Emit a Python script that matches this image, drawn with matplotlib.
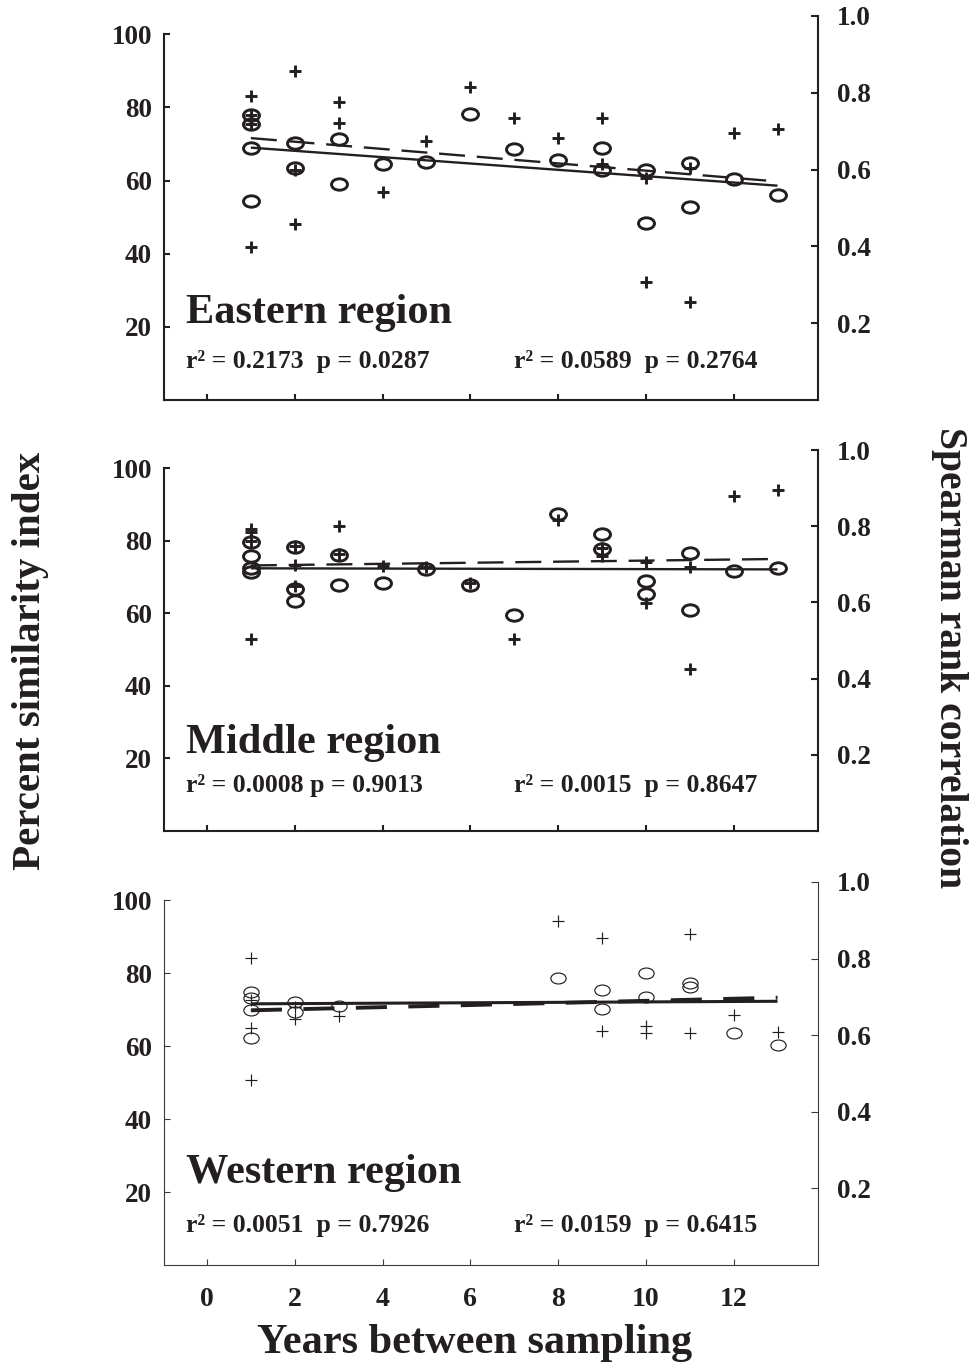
import numpy as np
import matplotlib
matplotlib.use("Agg")
import matplotlib.pyplot as plt
from matplotlib.path import Path
from matplotlib.markers import MarkerStyle
from matplotlib.transforms import Affine2D

plt.rcParams['font.family'] = ['Liberation Serif', 'DejaVu Serif']
plt.rcParams['font.weight'] = 'bold'

INK = '#231f20'

regions = ['Eastern region', 'Middle region', 'Western region']
years = [0, 2, 4, 6, 8, 10, 12]
fit_x = [1, 13]

# percent similarity index (circles, left axis)
east_psi_x = [1, 1, 1, 1, 2, 2, 3, 3, 4, 5, 6, 7, 8, 9, 9, 10, 10, 11, 11, 12, 13]
east_psi = [78.0, 75.5, 69.0, 54.5, 70.4, 63.4, 71.4, 59.1, 64.6, 65.2, 78.3,
            68.7, 65.7, 69.0, 62.9, 62.9, 48.5, 64.8, 52.8, 60.4, 56.0]
middle_psi_x = [1, 1, 1, 1, 2, 2, 2, 3, 3, 4, 5, 6, 7, 8, 9, 9, 10, 10, 11, 11, 12, 13]
middle_psi = [79.6, 75.9, 72.5, 71.3, 78.2, 66.8, 63.3, 76.0, 67.9, 68.4, 72.1,
              67.9, 59.6, 87.3, 81.8, 77.6, 68.8, 65.4, 76.7, 60.8, 71.6, 72.5]
west_psi_x = [1, 1, 1, 1, 2, 2, 3, 8, 9, 9, 10, 10, 11, 11, 12, 13]
west_psi = [74.8, 73.1, 69.8, 62.3, 72.1, 69.3, 71.0, 78.6, 75.3, 70.3,
            80.1, 73.4, 77.3, 76.2, 63.6, 60.2]

# spearman rank correlation (crosses, right axis)
east_rho_x = [1, 1, 1, 1, 2, 2, 2, 3, 3, 4, 5, 6, 7, 8, 9, 9, 10, 10, 11, 11, 12, 13]
east_rho = [0.792, 0.742, 0.718, 0.398, 0.857, 0.599, 0.458, 0.775, 0.721, 0.541, 0.675,
            0.816, 0.734, 0.681, 0.734, 0.615, 0.577, 0.306, 0.603, 0.254, 0.696, 0.706]
middle_rho_x = [1, 1, 1, 1, 2, 2, 2, 3, 3, 4, 5, 6, 7, 8, 9, 9, 10, 10, 11, 11, 12, 13]
middle_rho = [0.792, 0.785, 0.762, 0.503, 0.747, 0.697, 0.644, 0.801, 0.728, 0.695, 0.693,
              0.651, 0.503, 0.815, 0.743, 0.721, 0.705, 0.599, 0.693, 0.426, 0.878, 0.895]
west_rho_x = [1, 1, 1, 1, 2, 2, 3, 8, 9, 9, 10, 10, 11, 11, 12, 13]
west_rho = [0.802, 0.691, 0.619, 0.484, 0.673, 0.643, 0.651, 0.898, 0.855, 0.610,
            0.625, 0.605, 0.863, 0.605, 0.654, 0.608]

# regression line ends at 1 and 13 years
east_psi_fit = [69.0, 58.6]
east_rho_fit = [0.682, 0.569]
middle_psi_fit = [72.4, 72.1]
middle_rho_fit = [0.697, 0.714]
west_psi_fit = [71.6, 72.3]
west_rho_fit = [0.665, 0.698]

psi_stats = ['r² = 0.2173  p = 0.0287', 'r² = 0.0008 p = 0.9013', 'r² = 0.0051  p = 0.7926']
rho_stats = ['r² = 0.0589  p = 0.2764', 'r² = 0.0015  p = 0.8647', 'r² = 0.0159  p = 0.6415']

panels = [
    (east_psi_x, east_psi, east_rho_x, east_rho, east_psi_fit, east_rho_fit),
    (middle_psi_x, middle_psi, middle_rho_x, middle_rho, middle_psi_fit, middle_rho_fit),
    (west_psi_x, west_psi, west_rho_x, west_rho, west_psi_fit, west_rho_fit),
]

# axes boxes in figure fraction (left, bottom, width, height)
rects = [
    (0.168, 0.7074, 0.670, 0.2809),
    (0.168, 0.3921, 0.670, 0.2787),
    (0.168, 0.0746, 0.670, 0.2802),
]
name_y = [0.200, 0.204, 0.213]
stat_y = [0.083, 0.103, 0.085]

ellipse = MarkerStyle(Path.unit_circle().transformed(Affine2D().scale(1.4, 1.0)))

fig = plt.figure(figsize=(9.76, 13.67), dpi=100)

for i, (px, py, rx, ry, pfit, rfit) in enumerate(panels):
    last = i == 2
    spine_w = 0.8 if last else 1.5
    spine_c = '#3a3a3a' if last else INK
    mew = 0.85 if last else 2.1

    ax = fig.add_axes(rects[i])
    ax2 = ax.twinx()

    ax.plot(px, py, linestyle='none', marker=ellipse, ms=11 if last else 11.5,
            mfc='none', mec=INK, mew=mew)
    ax.plot(fit_x, pfit, color=INK, lw=2.2 if last else 1.7, solid_capstyle='butt')

    ax2.plot(rx, ry, linestyle='none', marker='+', ms=8.5 if last else 8,
             color=INK, mew=mew)
    ax2.plot(fit_x, rfit, color=INK, lw=2.8 if last else 1.7,
             dashes=(8, 5.5) if last else (11, 5))

    ax.set_xlim(-0.98, 13.92)
    ax.set_ylim(0, 105)
    ax2.set_ylim(0, 1.0)

    ax.set_xticks(years)
    ax.set_yticks([20, 40, 60, 80, 100])
    ax2.set_yticks([0.2, 0.4, 0.6, 0.8, 1.0])
    ax2.set_yticklabels(['0.2', '0.4', '0.6', '0.8', '1.0'])

    for a in (ax, ax2):
        a.spines['top'].set_visible(False)
        for s in a.spines.values():
            s.set_linewidth(spine_w)
            s.set_color(spine_c)
    ax.spines['right'].set_visible(False)
    ax.spines['left'].set_bounds(0, 100)
    ax2.spines['left'].set_visible(False)
    ax2.spines['bottom'].set_visible(False)

    ax.tick_params(axis='y', direction='in', length=4.5, width=spine_w, color=spine_c,
                   labelsize=19.5, pad=8.5, labelcolor=INK)
    ax.tick_params(axis='x', direction='in', length=4, width=spine_w, color=spine_c,
                   labelsize=20, pad=16, labelcolor=INK, labelbottom=last)
    ax2.tick_params(axis='y', direction='in', length=5, width=spine_w, color=spine_c,
                    labelsize=19.5, pad=14, labelcolor=INK)

    ax.text(0.034, name_y[i], regions[i], transform=ax.transAxes, fontsize=30.5,
            color=INK, ha='left', va='baseline')
    ax.text(0.034, stat_y[i], psi_stats[i], transform=ax.transAxes, fontsize=18.5,
            color=INK, ha='left', va='baseline')
    ax.text(0.535, stat_y[i], rho_stats[i], transform=ax.transAxes, fontsize=18.5,
            color=INK, ha='left', va='baseline')

fig.text(0.031, 1 - 661 / 1367, 'Percent similarity index', rotation=90,
         ha='center', va='center', fontsize=29.5, color=INK)
fig.text(0.973, 1 - 658 / 1367, 'Spearman rank correlation', rotation=270,
         ha='center', va='center', fontsize=28.5, color=INK)
fig.text(0.486, 1 - 1343 / 1367, 'Years between sampling',
         ha='center', va='center', fontsize=30.5, color=INK)

fig.savefig('out.png', dpi=100)
